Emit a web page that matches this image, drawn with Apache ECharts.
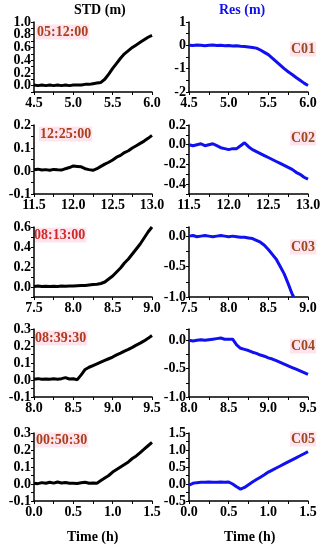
<!DOCTYPE html>
<html><head><meta charset="utf-8">
<script src="https://cdn.jsdelivr.net/npm/echarts@6/dist/echarts.min.js"></script>
<style>html,body{margin:0;padding:0;background:#fff}#c{width:322px;height:550px}</style>
</head><body><div id="c"></div>
<script>
// ---- data ----
const x1 = [4.5,4.55,4.6,4.65,4.7,4.75,4.8,4.85,4.9,4.95,5.0,5.05,5.1,5.15,5.2,5.25,5.3,5.35,5.4,5.45,5.5,5.55,5.6,5.65,5.7,5.75,5.8,5.85,5.9,5.95,6.0];
const std1 = [0.01,0.00,0.01,0.00,0.01,0.00,0.01,0.00,0.01,0.00,0.01,0.01,0.01,0.02,0.02,0.03,0.04,0.05,0.10,0.18,0.27,0.35,0.43,0.50,0.55,0.60,0.64,0.68,0.72,0.76,0.79];
const res1 = [0.0,-0.01,0.01,0.0,-0.02,0.0,0.01,-0.01,0.0,-0.02,-0.01,-0.03,-0.02,-0.04,-0.05,-0.07,-0.09,-0.12,-0.2,-0.3,-0.4,-0.55,-0.7,-0.85,-1.0,-1.13,-1.25,-1.38,-1.5,-1.62,-1.72];

const x2 = [11.5,11.55,11.6,11.65,11.7,11.75,11.8,11.85,11.9,11.95,12.0,12.05,12.1,12.15,12.2,12.25,12.3,12.35,12.4,12.45,12.5,12.55,12.6,12.65,12.7,12.75,12.8,12.85,12.9,12.95,13.0];
const std2 = [0.005,0.008,0.004,0.006,0.003,0.007,0.005,0.004,0.01,0.015,0.022,0.02,0.018,0.01,0.006,0.003,0.01,0.02,0.03,0.038,0.048,0.06,0.068,0.08,0.088,0.1,0.11,0.12,0.13,0.142,0.155];
const res2 = [0.0,-0.01,0.0,0.01,-0.01,0.0,0.01,-0.01,-0.03,-0.04,-0.05,-0.04,-0.04,-0.01,0.02,-0.02,-0.05,-0.07,-0.09,-0.11,-0.13,-0.15,-0.17,-0.19,-0.21,-0.23,-0.25,-0.28,-0.30,-0.33,-0.35];

const x3 = [7.5,7.55,7.6,7.65,7.7,7.75,7.8,7.85,7.9,7.95,8.0,8.05,8.1,8.15,8.2,8.25,8.3,8.35,8.4,8.45,8.5,8.55,8.6,8.65,8.7,8.75,8.8,8.85,8.9,8.95,9.0];
const std3 = [0.005,0.01,0.005,0.008,0.004,0.008,0.006,0.01,0.007,0.01,0.01,0.012,0.014,0.016,0.02,0.024,0.028,0.035,0.05,0.08,0.11,0.15,0.19,0.24,0.28,0.33,0.38,0.43,0.49,0.55,0.6];
const x3r = [7.5,7.55,7.6,7.65,7.7,7.75,7.8,7.85,7.9,7.95,8.0,8.05,8.1,8.15,8.2,8.25,8.3,8.35,8.4,8.45,8.5,8.55,8.6,8.65,8.7,8.75,8.8,8.82];
const res3 = [0.0,0.01,-0.01,0.0,0.01,0.0,-0.01,0.0,0.01,0.0,-0.01,0.0,-0.01,-0.02,-0.02,-0.03,-0.04,-0.07,-0.1,-0.15,-0.22,-0.3,-0.38,-0.5,-0.62,-0.78,-0.95,-1.0];

const x4 = [8.0,8.05,8.1,8.15,8.2,8.25,8.3,8.35,8.4,8.45,8.5,8.55,8.6,8.65,8.7,8.75,8.8,8.85,8.9,8.95,9.0,9.05,9.1,9.15,9.2,9.25,9.3,9.35,9.4,9.45,9.5];
const std4 = [0.005,0.008,0.004,0.006,0.005,0.007,0.005,0.008,0.014,0.006,0.007,0.002,0.03,0.062,0.075,0.085,0.095,0.105,0.115,0.125,0.135,0.148,0.158,0.17,0.18,0.192,0.205,0.217,0.23,0.245,0.262];
const res4 = [0.0,-0.01,0.0,0.01,0.0,0.01,0.02,0.03,0.04,0.02,0.02,0.02,-0.08,-0.14,-0.16,-0.18,-0.21,-0.23,-0.26,-0.28,-0.31,-0.33,-0.36,-0.39,-0.42,-0.45,-0.48,-0.51,-0.54,-0.57,-0.6];

const x5 = [0.0,0.05,0.1,0.15,0.2,0.25,0.3,0.35,0.4,0.45,0.5,0.55,0.6,0.65,0.7,0.75,0.8,0.85,0.9,0.95,1.0,1.05,1.1,1.15,1.2,1.25,1.3,1.35,1.4,1.45,1.5];
const std5 = [0.005,0.002,0.008,0.004,0.01,0.005,0.012,0.006,0.009,0.004,0.005,0.003,0.007,0.01,0.004,0.006,0.005,0.02,0.035,0.05,0.07,0.085,0.1,0.115,0.13,0.15,0.165,0.185,0.205,0.225,0.245];
const res5 = [-0.03,0.02,0.04,0.05,0.05,0.06,0.05,0.05,0.06,0.05,0.06,0.0,-0.08,-0.15,-0.1,-0.02,0.06,0.13,0.2,0.27,0.35,0.41,0.47,0.53,0.59,0.65,0.71,0.77,0.83,0.89,0.95];

const timeLabels = ['05:12:00','12:25:00','08:13:00','08:39:30','00:50:30'];
const caseLabels = ['C01','C02','C03','C04','C05'];
const xTicks = [[4.5,6.0],[11.5,13.0],[7.5,9.0],[8.0,9.5],[0.0,1.5]];

// ---- layout ----
const rows = [[22,92],[125,194],[227,297],[329,397],[433,501]];
const cols = [[34,118],[189,119]];
const FONT = '"Liberation Serif","Times New Roman",serif';

// [min,max,tickInterval,labelStep,decimals]
const yCfg = [
  [[-0.1,1.0,0.1,0.2,1],[-2,1,0.5,1,0]],
  [[-0.1,0.2,0.05,0.1,1],[-0.5,0.2,0.1,0.2,1]],
  [[-0.1,0.6,0.1,0.2,1],[-1.0,0.15,0.25,0.5,1]],
  [[-0.1,0.3,0.05,0.1,1],[-1.0,0.2,0.25,0.5,1]],
  [[-0.1,0.3,0.05,0.1,1],[-0.5,1.5,0.25,0.5,1]]
];
const seriesData = [
  [[x1,std1],[x1,res1]],
  [[x2,std2],[x2,res2]],
  [[x3,std3],[x3r,res3]],
  [[x4,std4],[x4,res4]],
  [[x5,std5],[x5,res5]]
];

function fmt(step, dec){
  return function(v){
    const r = v/step;
    if (Math.abs(r-Math.round(r))>1e-6) return '';
    if (Math.abs(v)<1e-9) v = 0;
    return v.toFixed(dec);
  };
}
const axisLine = {show:true, onZero:false, lineStyle:{color:'#000', width:1.5}};
const labelStyle = {color:'#000', fontFamily:FONT, fontWeight:'bold', fontSize:14};

const grid=[], xAxis=[], yAxis=[], series=[];
let idx=0;
for (let r=0;r<5;r++){
  for (let c=0;c<2;c++){
    grid.push({left:cols[c][0], width:cols[c][1], top:rows[r][0], height:rows[r][1]-rows[r][0], outerBoundsMode:'none', containLabel:false});
    xAxis.push({type:'value', gridIndex:idx, min:xTicks[r][0], max:xTicks[r][1], interval:0.25,
      axisLine, splitLine:{show:false},
      axisTick:{show:true, inside:false, length:3, lineStyle:{color:'#000', width:1}},
      axisLabel:Object.assign({formatter:fmt(0.5,1), margin:4, showMinLabel:true, showMaxLabel:true}, labelStyle)});
    const y = yCfg[r][c];
    yAxis.push({type:'value', gridIndex:idx, min:y[0], max:y[1], interval:y[2],
      axisLine, splitLine:{show:false},
      axisTick:{show:true, inside:false, length:3, lineStyle:{color:'#000', width:1}},
      axisLabel:Object.assign({formatter:fmt(y[3],y[4]), margin:3, showMinLabel:true, showMaxLabel:true}, labelStyle)});
    const d = seriesData[r][c];
    series.push({type:'line', xAxisIndex:idx, yAxisIndex:idx, showSymbol:false, symbol:'none',
      data:d[0].map((v,i)=>[v,d[1][i]]),
      lineStyle:{color: c===0?'#000':'#1010f0', width:3}, clip:true, silent:true});
    idx++;
  }
}

const graphic = [
  {type:'text', left:74, top:3, style:{text:'STD (m)', fill:'#000', font:'bold 14px '+FONT}},
  {type:'text', left:219, top:3, style:{text:'Res (m)', fill:'#1010f0', font:'bold 14px '+FONT}},
  {type:'text', left:67, top:530, style:{text:'Time (h)', fill:'#000', font:'bold 14px '+FONT}},
  {type:'text', left:224, top:530, style:{text:'Time (h)', fill:'#000', font:'bold 14px '+FONT}}
];
const tY = [32,134,235,338,440];
const cY = [49,138,247,346,439];
const tX = [36,39,33,34,35];
const tCol = ['#a8401e','#a8401e','#cc2a2a','#b03a1e','#a8401e'];
for (let r=0;r<5;r++){
  graphic.push({type:'text', x:tX[r], y:tY[r], style:{text:timeLabels[r], fill:tCol[r], font:'bold 14px '+FONT, verticalAlign:'middle', backgroundColor:'#ffe4ee', padding:[1,1,0,1]}});
  graphic.push({type:'text', x:290, y:cY[r], style:{text:caseLabels[r], fill:'#9a4a22', font:'bold 14px '+FONT, verticalAlign:'middle', backgroundColor:'#ffe4ee', padding:[1,1,0,1]}});
}

const chart = echarts.init(document.getElementById('c'), null, {renderer:'canvas'});
chart.setOption({animation:false, backgroundColor:'#fff', grid, xAxis, yAxis, series, graphic});
</script>
</body></html>
